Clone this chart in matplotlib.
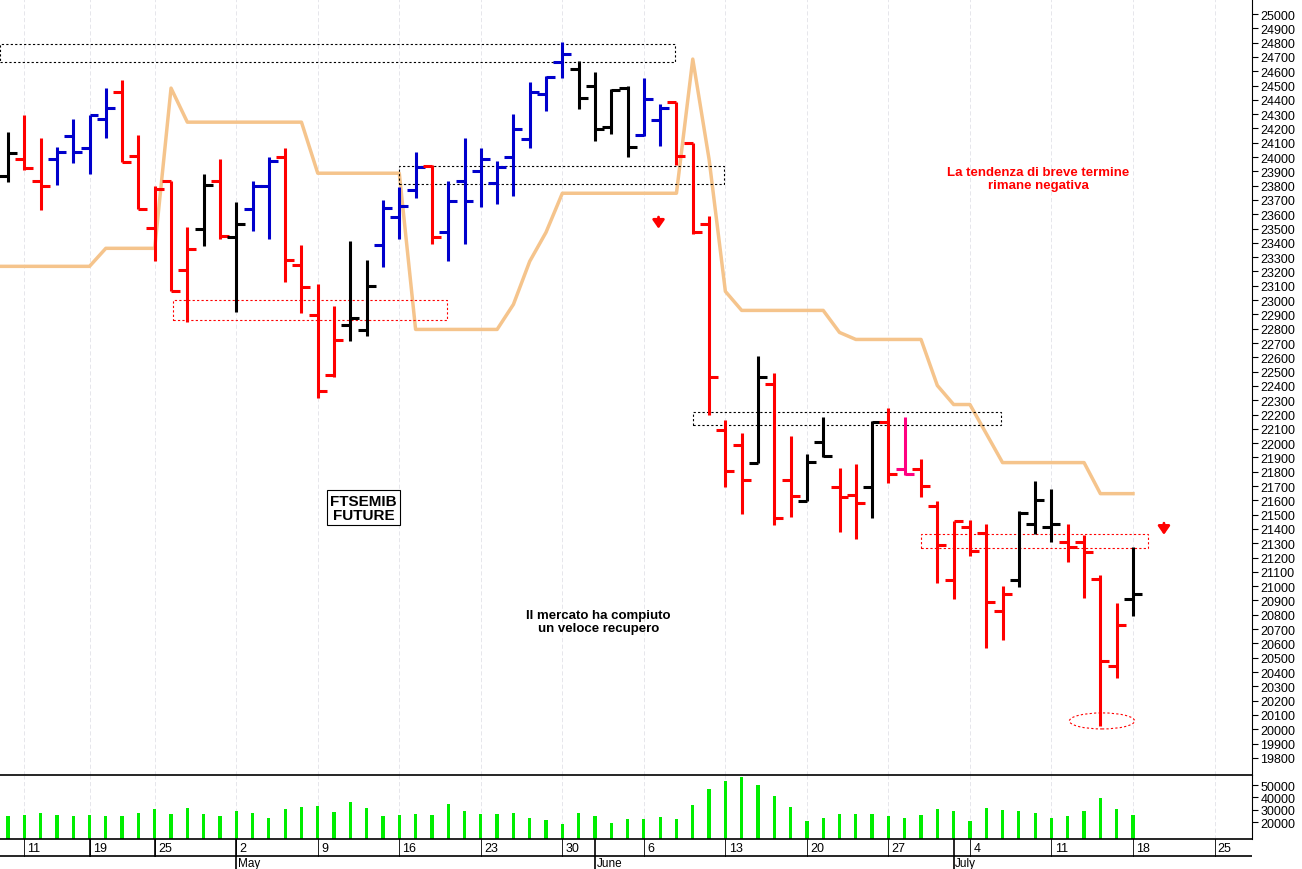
import matplotlib
matplotlib.use('Agg')
import matplotlib.pyplot as plt
from matplotlib.patches import Rectangle, Ellipse

plt.rcParams['font.family'] = ['Liberation Sans', 'DejaVu Sans']
NARROW = ['Liberation Sans Narrow', 'Liberation Sans', 'DejaVu Sans']

# OHLC giornalieri FTSEMIB future (indice di barra = giorno di contrattazione)
opens = [23866, 23985, 23831, 23985, 24146, 24062, 24265, 24454, 24006, 23502,
         23831, 23208, 23495, 23831, 23439, 23635, 23796, 23999, 23243, 22893,
         22473, 22823, 22788, 23383, 23579, 23768, 23936, 23474, 23831, 23901,
         23817, 23999, 24125, 24440, 24664, 24615, 24496, 24209, 24482, 24153,
         24258, 24384, 24097, 23530, 22095, 21990, 21864, 22410, 21745, 21598,
         22011, 21696, 21640, 21696, 22151, 21822, 21822, 21563, 21045, 21416,
         21374, 20828, 21045, 21437, 21416, 21311, 21311, 21052, 20443, 20912]
highs = [24174, 24293, 24132, 24069, 24265, 24293, 24482, 24538, 24153, 23796,
         23831, 23509, 23880, 23985, 23684, 23831, 23999, 24062, 23383, 23110,
         22956, 23411, 23278, 23698, 23789, 24034, 23943, 23831, 24132, 24062,
         23971, 24300, 24524, 24566, 24804, 24671, 24594, 24475, 24496, 24552,
         24370, 24384, 24097, 23586, 22165, 22074, 22606, 22487, 22053, 21927,
         22186, 21829, 21857, 22158, 22249, 22186, 21892, 21598, 21458, 21465,
         21437, 21003, 21528, 21738, 21682, 21437, 21360, 21080, 20884, 21276]
lows = [23824, 23908, 23628, 23803, 23957, 23880, 24132, 23964, 23635, 23271,
        23061, 22844, 23376, 23425, 22914, 23481, 23425, 23124, 22907, 22319,
        22459, 22711, 22746, 23229, 23425, 23712, 23390, 23271, 23390, 23649,
        23670, 23726, 24062, 24321, 24552, 24335, 24111, 24160, 23999, 24146,
        24076, 23943, 23460, 22200, 21696, 21507, 21864, 21430, 21486, 21598,
        21906, 21381, 21332, 21479, 21724, 21780, 21626, 21024, 20912, 21213,
        20569, 20625, 20996, 21367, 21311, 21171, 20919, 20023, 20359, 20793]
closes = [24027, 23922, 23796, 24034, 24034, 24293, 24342, 23964, 23635, 23775,
          23061, 23355, 23803, 23446, 23530, 23796, 23971, 23278, 23089, 22368,
          22718, 22872, 23096, 23642, 23656, 23929, 23439, 23691, 23691, 23985,
          23929, 24195, 24454, 24559, 24720, 24412, 24195, 24468, 24069, 24405,
          24342, 24006, 23474, 22460, 21808, 21745, 22459, 21479, 21633, 21871,
          21913, 21626, 21584, 22151, 21787, 21787, 21703, 21290, 21458, 21248,
          20891, 20947, 21514, 21605, 21437, 21276, 21241, 20478, 20730, 20947]
bar_colors = (['k', 'r', 'r', 'b', 'b', 'b', 'b', 'r', 'r', 'r',
               'r', 'r', 'k', 'r', 'k', 'b', 'b', 'r', 'r', 'r',
               'r', 'k', 'k', 'b', 'b', 'b', 'r', 'b', 'b', 'b',
               'b', 'b', 'b', 'b', 'b', 'k', 'k', 'k', 'k', 'b',
               'b', 'r', 'r', 'r', 'r', 'r', 'k', 'r', 'r', 'k',
               'k', 'r', 'r', 'k', 'r', 'p', 'r', 'r', 'r', 'r',
               'r', 'r', 'k', 'k', 'k', 'r', 'r', 'r', 'r', 'k'])
volumes = [24680, 25320, 27450, 25960, 24680, 25750, 24680, 24680, 27450, 30640,
           26810, 31700, 26810, 24680, 28940, 27450, 23620, 30640, 32340, 33190,
           28090, 35960, 31280, 24680, 25960, 26380, 25960, 34470, 28940, 26810,
           26380, 27450, 22980, 21490, 18510, 27450, 24680, 19570, 22130, 22130,
           23830, 22550, 33830, 46600, 53410, 56180, 50430, 41280, 32340, 20430,
           23190, 26380, 26810, 26380, 24680, 23620, 25320, 30640, 28940, 20430,
           31700, 30000, 28940, 27450, 23190, 24680, 28940, 39580, 30640, 25960]

# linea di tendenza arancione (vertici)
trend_x = [-1, 5, 6, 9, 10, 11, 18, 19, 24, 25, 30, 31, 32, 33, 34, 41, 42, 43,
           44, 45, 50, 51, 52, 56, 57, 58, 59, 61, 66, 67, 69]
trend_y = [23236, 23236, 23362, 23362, 24482, 24244, 24244, 23887, 23887, 22795,
           22795, 22970, 23271, 23474, 23747, 23747, 24685, 23985, 23061, 22928,
           22928, 22774, 22725, 22725, 22403, 22270, 22270, 21864, 21864, 21647, 21647]

day_pos = [1, 5, 9, 14, 19, 24, 29, 34, 39, 44, 49, 54, 59, 64, 69, 74]
day_labels = ['11', '19', '25', '2', '9', '16', '23', '30', '6', '13', '20', '27',
              '4', '11', '18', '25']
month_pos = [14, 36, 58]
month_labels = ['May', 'June', 'July']

color_map = {'k': 'black', 'r': '#ff0000', 'b': '#0000cc', 'p': '#ff0080'}

fig = plt.figure(figsize=(13.02, 8.7), dpi=100)
ax = fig.add_axes([0, 1 - 776 / 870, 1252 / 1302, 776 / 870])
axv = fig.add_axes([0, 1 - 840 / 870, 1252 / 1302, 64 / 870], sharex=ax)
axd = fig.add_axes([0, 0, 1252 / 1302, 30 / 870], sharex=ax)

xlim = (-0.49, 76.3)
ax.set_xlim(*xlim)
ax.set_ylim(19680, 25105)

for a in (ax, axv):
    for p in day_pos:
        a.axvline(p, color='#e2e2e8', lw=0.6, ls=(0, (5, 3)), zorder=0)

for i in range(len(opens)):
    c = color_map[bar_colors[i]]
    ax.plot([i, i], [lows[i], highs[i]], color=c, lw=2.2, solid_capstyle='butt')
    ax.plot([i - 0.55, i], [opens[i], opens[i]], color=c, lw=2.2, solid_capstyle='butt')
    ax.plot([i, i + 0.55], [closes[i], closes[i]], color=c, lw=2.2, solid_capstyle='butt')

ax.plot(trend_x, trend_y, color='#f5c48c', lw=2.5, zorder=1)

# rettangoli tratteggiati
boxes = [(-0.5, 24664, 41.4, 126, 'black'),
         (10.1, 22858, 16.8, 140, 'red'),
         (24.0, 23810, 19.9, 126, 'black'),
         (42.0, 22130, 18.9, 91, 'black'),
         (56.0, 21269, 13.9, 98, 'red')]
for x0, y0, w, h, c in boxes:
    ax.add_patch(Rectangle((x0, y0), w, h, fill=False, ec=c, lw=0.8, ls=(0, (2, 2))))
ax.add_patch(Ellipse((67.1, 20058), 4.0, 112, fill=False, ec='red', lw=0.8, ls=(0, (2, 2))))

for ax_x, ax_y in [(39.9, 23600), (70.9, 21460)]:
    ax.annotate('', xy=(ax_x, ax_y - 120), xytext=(ax_x, ax_y),
                arrowprops=dict(arrowstyle='-|>,head_width=0.35,head_length=0.5',
                                color='red', lw=2))

ax.text(21.8, 21550, 'FTSEMIB\nFUTURE', ha='center', va='center', fontsize=11,
        fontweight='bold', linespacing=1.0,
        bbox=dict(boxstyle='square,pad=0.2', fc='white', ec='black', lw=0.8))
ax.text(36.2, 20750, 'Il mercato ha compiuto\nun veloce recupero', ha='center', va='center',
        fontsize=9.5, fontweight='bold', linespacing=1.1)
ax.text(63.2, 23850, 'La tendenza di breve termine\nrimane negativa', ha='center', va='center',
        fontsize=9.5, fontweight='bold', color='red', linespacing=1.1)

ax.yaxis.tick_right()
ax.set_yticks(range(19800, 25001, 100))
ax.tick_params(axis='y', labelsize=9, length=4, pad=2)
ax.tick_params(axis='x', bottom=False, labelbottom=False)
for lab in ax.get_yticklabels():
    lab.set_family(NARROW)
for s in ('top', 'left', 'bottom'):
    ax.spines[s].set_visible(False)

axv.bar(range(len(volumes)), [v - 6200 for v in volumes], bottom=6200, width=0.2,
        color='#00ee00')
axv.set_ylim(6200, 58200)
axv.yaxis.tick_right()
axv.set_yticks([20000, 30000, 40000, 50000])
axv.tick_params(axis='y', labelsize=9, length=4, pad=2)
for lab in axv.get_yticklabels():
    lab.set_family(NARROW)
axv.tick_params(axis='x', bottom=False, labelbottom=False)
axv.spines['left'].set_visible(False)
axv.spines['top'].set_linewidth(1.2)
axv.spines['bottom'].set_linewidth(1.2)

axd.set_ylim(0, 30)
axd.axis('off')
axd.axhline(13, color='black', lw=1.2)
for p, lab in zip(day_pos, day_labels):
    axd.plot([p, p], [13, 30], color='black', lw=0.6)
    axd.text(p + 0.2, 21, lab, fontsize=9, va='center', ha='left', family=NARROW)
for p in [5, 9]:
    axd.plot([p, p], [13, 30], color='black', lw=1.2)
for p, lab in zip(month_pos, month_labels):
    axd.plot([p, p], [0, 30], color='black', lw=1.2)
    axd.text(p + 0.1, 6, lab, fontsize=8.5, va='center', ha='left', family=NARROW)
axd.set_xlim(*xlim)

fig.savefig('out.png', dpi=100)
